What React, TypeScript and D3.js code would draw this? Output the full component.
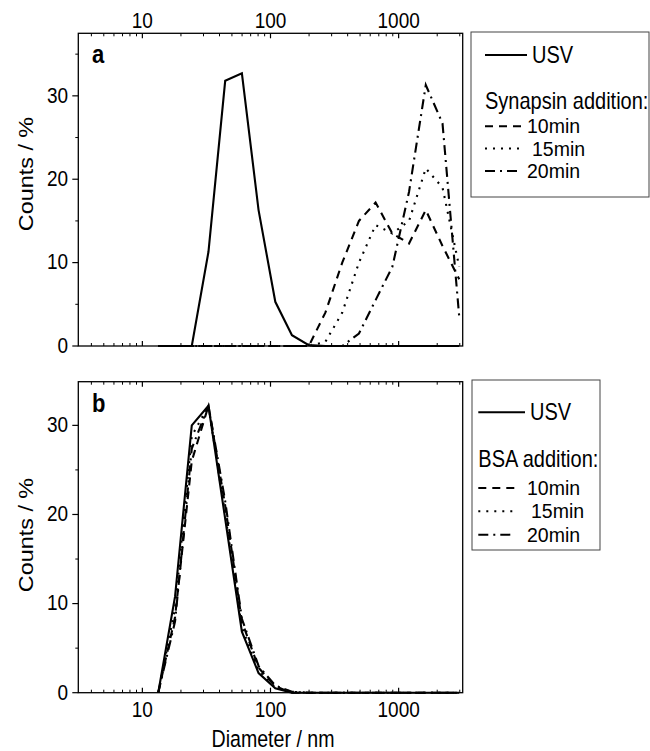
import React from "react";
import * as d3 from "d3";

// ---- data ----
const diameters = [13.3, 18.0, 24.3, 32.8, 44.3, 59.8, 80.7, 109, 147, 199, 268, 363, 490, 661, 893, 1206, 1629, 2200, 2971];

const usvA = [0, 0, 0, 11.3, 31.8, 32.7, 16.3, 5.3, 1.3, 0.1, 0, 0, 0, 0, 0, 0, 0, 0, 0];
const syn10 = [0, 0, 0, 0, 0, 0, 0, 0, 0, 0, 4, 10, 15, 17.2, 13.5, 12.3, 16.3, 12, 8];
const syn15 = [0, 0, 0, 0, 0, 0, 0, 0, 0, 0, 0.5, 4, 10, 14.5, 13.5, 15, 21.3, 19, 9.5];
const syn20 = [0, 0, 0, 0, 0, 0, 0, 0, 0, 0, 0, 0, 1.5, 5.5, 9.5, 18.5, 31.3, 26.7, 3.5];

const usvB = [0, 10.8, 30, 32.2, 19.5, 6.85, 2.2, 0.5, 0, 0, 0, 0, 0, 0, 0, 0, 0, 0, 0];
const bsa10 = [0, 8.5, 26, 32.2, 21, 8, 2.8, 0.7, 0, 0, 0, 0, 0, 0, 0, 0, 0, 0, 0];
const bsa15 = [0, 9.5, 28.8, 32.2, 20, 7.3, 2.5, 0.6, 0.1, 0, 0, 0, 0, 0, 0, 0, 0, 0, 0];
const bsa20 = [0, 8, 27.4, 32.2, 21.5, 8.3, 3, 0.8, 0.1, 0, 0, 0, 0, 0, 0, 0, 0, 0, 0];

const xMajorTicks = [10, 100, 1000];
const yMajorTicks = [0, 10, 20, 30];
const yMinorTicks = [5, 15, 25, 35];
const timeLabels = ["10min", "15min", "20min"];

const FONT = "'Liberation Sans', Arial, Helvetica, sans-serif";
const VS = 1.2; // vertical stretch of the reference text

const dashStyles = ["8,6", "2,6", "10,5,2,5"];

function T({ x, y, size = 19, anchor = "start", weight = "normal", rotate = false, vs = VS, children }: any) {
  const tr = rotate
    ? `translate(${x},${y}) rotate(-90) scale(${vs},1)`
    : `translate(${x},${y}) scale(1,${vs})`;
  return (
    <text transform={tr} fontFamily={FONT} fontSize={size} textAnchor={anchor} fontWeight={weight} fill="#000">
      {children}
    </text>
  );
}

function minorX(domain: [number, number]) {
  const out: number[] = [];
  for (let dec = 1; dec <= 1000; dec *= 10) {
    for (let m = 2; m <= 9; m++) {
      const v = m * dec;
      if (v > domain[0] && v < domain[1]) out.push(v);
    }
  }
  return out;
}

function Panel({ top, bottom, yMax, letter, series, topLabels, bottomLabels, legend, ylabelY }: any) {
  const left = 78.3;
  const right = 462.7;
  const xDomain: [number, number] = [Math.pow(10, 0.5), Math.pow(10, 3.5)];
  const x = d3.scaleLog().domain(xDomain).range([left, right]);
  const y = d3.scaleLinear().domain([0, yMax]).range([bottom, top]);
  const line = d3
    .line<number>()
    .x((_, i) => x(diameters[i]))
    .y((d) => y(d));
  const minors = minorX(xDomain);
  return (
    <g>
      {series.map((s: number[], i: number) => (
        <path
          key={i}
          d={line(s) || ""}
          fill="none"
          stroke="#000"
          strokeWidth={2.1}
          strokeDasharray={i === 0 ? undefined : dashStyles[i - 1]}
          strokeLinejoin="miter"
        />
      ))}
      <rect x={left} y={top} width={right - left} height={bottom - top} fill="none" stroke="#000" strokeWidth={1.3} />
      {xMajorTicks.map((t) => (
        <g key={"M" + t}>
          <line x1={x(t)} x2={x(t)} y1={top} y2={top + 5} stroke="#000" strokeWidth={1.2} />
          <line x1={x(t)} x2={x(t)} y1={bottom} y2={bottom - 5} stroke="#000" strokeWidth={1.2} />
        </g>
      ))}
      {minors.map((t) => (
        <g key={"m" + t}>
          <line x1={x(t)} x2={x(t)} y1={top} y2={top + 3} stroke="#000" strokeWidth={1} />
          <line x1={x(t)} x2={x(t)} y1={bottom} y2={bottom - 3} stroke="#000" strokeWidth={1} />
        </g>
      ))}
      {yMajorTicks.map((t) => (
        <g key={"y" + t}>
          <line x1={left} x2={left - 6} y1={y(t)} y2={y(t)} stroke="#000" strokeWidth={1.2} />
          <T x={68} y={y(t) + 6.8} anchor="end">{t}</T>
        </g>
      ))}
      {yMinorTicks
        .filter((t) => t < yMax)
        .map((t) => (
          <line key={"ym" + t} x1={left} x2={left - 3} y1={y(t)} y2={y(t)} stroke="#000" strokeWidth={1} />
        ))}
      {topLabels &&
        xMajorTicks.map((t) => (
          <T key={"tl" + t} x={x(t)} y={top - 5} anchor="middle">{t}</T>
        ))}
      {bottomLabels &&
        xMajorTicks.map((t) => (
          <T key={"bl" + t} x={x(t)} y={bottom + 24} anchor="middle">{t}</T>
        ))}
      <T x={92} y={top + 30} size={22} weight="bold">{letter}</T>
      <T x={33} y={ylabelY} anchor="middle" rotate size={19.5}>Counts / %</T>
      <rect x={legend.x} y={legend.y} width={legend.w} height={legend.h} fill="#fff" stroke="#444" strokeWidth={1} />
      <line x1={legend.lx1} x2={legend.lx2} y1={legend.usvY} y2={legend.usvY} stroke="#000" strokeWidth={2} />
      <T x={legend.lx2 + 5} y={legend.usvY + 8} size={20}>USV</T>
      <T x={legend.lx1} y={legend.titleY} size={20}>{legend.title}</T>
      {timeLabels.map((lab, i) => {
        const ly = legend.rowY[i];
        return (
          <g key={lab}>
            <line x1={legend.lx1} x2={legend.lx1 + 37} y1={ly - 7} y2={ly - 7} stroke="#000" strokeWidth={2} strokeDasharray={dashStyles[i]} />
            <T x={legend.textX[i]} y={ly} size={19.5} vs={1}>{lab}</T>
          </g>
        );
      })}
    </g>
  );
}

export default function App() {
  return (
    <svg width={650} height={751} style={{ position: "absolute", left: 0, top: 0, background: "#fff" }}>
      <rect x={0} y={0} width={650} height={751} fill="#fff" />
      <Panel
        top={33.3}
        bottom={346}
        yMax={37.5}
        letter="a"
        series={[usvA, syn10, syn15, syn20]}
        topLabels
        bottomLabels={false}
        ylabelY={174}
        legend={{
          x: 471, y: 32, w: 178, h: 165,
          lx1: 485, lx2: 527, usvY: 55,
          title: "Synapsin addition:", titleY: 109,
          rowY: [133.3, 155.5, 178],
          textX: [527, 532, 527],
        }}
      />
      <Panel
        top={381.7}
        bottom={692.7}
        yMax={34.9}
        letter="b"
        series={[usvB, bsa10, bsa15, bsa20]}
        topLabels={false}
        bottomLabels
        ylabelY={535}
        legend={{
          x: 472, y: 380, w: 128, h: 170,
          lx1: 478.3, lx2: 525, usvY: 412.3,
          title: "BSA addition:", titleY: 466.7,
          rowY: [495, 518.3, 541.7],
          textX: [527, 531, 527],
        }}
      />
      <T x={273} y={747} anchor="middle" size={19.6}>Diameter / nm</T>
    </svg>
  );
}
